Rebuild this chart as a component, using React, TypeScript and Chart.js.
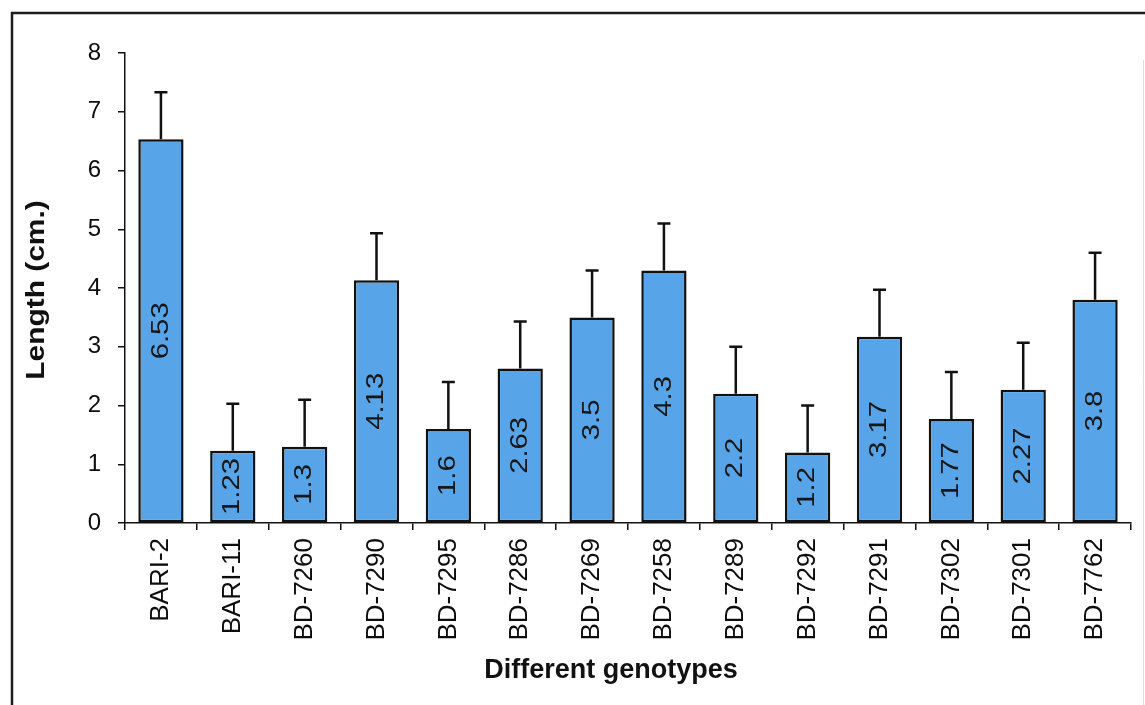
import React, { useEffect, useRef } from "react";
import { Chart, registerables } from "chart.js";

Chart.register(...registerables);

const categories = [
  "BARI-2", "BARI-11", "BD-7260", "BD-7290", "BD-7295", "BD-7286", "BD-7269",
  "BD-7258", "BD-7289", "BD-7292", "BD-7291", "BD-7302", "BD-7301", "BD-7762",
];
const values = [6.53, 1.23, 1.3, 4.13, 1.6, 2.63, 3.5, 4.3, 2.2, 1.2, 3.17, 1.77, 2.27, 3.8];
const errors = [0.8, 0.8, 0.8, 0.8, 0.8, 0.8, 0.8, 0.8, 0.8, 0.8, 0.8, 0.8, 0.8, 0.8];
const valueLabels = ["6.53", "1.23", "1.3", "4.13", "1.6", "2.63", "3.5", "4.3", "2.2", "1.2", "3.17", "1.77", "2.27", "3.8"];
const yMin = 0;
const yMax = 8;
const yStep = 1;
const yTitle = "Length (cm.)";
const xTitle = "Different genotypes";

const FONT = '"Liberation Sans", Arial, Helvetica, sans-serif';

const overlayPlugin = {
  id: "overlay",
  beforeDraw(chart: any) {
    const { ctx, width, height } = chart;
    ctx.save();
    ctx.fillStyle = "#ffffff";
    ctx.fillRect(0, 0, width, height);
    // frame
    ctx.strokeStyle = "#1e1e1e";
    ctx.lineWidth = 2.5;
    ctx.beginPath();
    ctx.moveTo(12, height);
    ctx.lineTo(12, 13);
    ctx.lineTo(width, 13);
    ctx.stroke();
    ctx.strokeStyle = "#dddddd";
    ctx.lineWidth = 1;
    ctx.beginPath();
    ctx.moveTo(width - 1.5, 60);
    ctx.lineTo(width - 1.5, height);
    ctx.stroke();
    ctx.restore();
  },
  afterDatasetsDraw(chart: any) {
    const { ctx } = chart;
    const yScale = chart.scales.y;
    const meta = chart.getDatasetMeta(0);
    ctx.save();
    meta.data.forEach((bar: any, i: number) => {
      const p = bar.getProps(["x", "y", "base"], true);
      const yErr = yScale.getPixelForValue(values[i] + errors[i]);
      ctx.strokeStyle = "#111111";
      ctx.lineWidth = 2.5;
      ctx.beginPath();
      ctx.moveTo(p.x, p.y);
      ctx.lineTo(p.x, yErr);
      ctx.moveTo(p.x - 6.5, yErr);
      ctx.lineTo(p.x + 6.5, yErr);
      ctx.stroke();

      ctx.save();
      ctx.translate(p.x, (p.y + p.base) / 2);
      ctx.rotate(-Math.PI / 2);
      ctx.scale(1.22, 1);
      ctx.font = `24px ${FONT}`;
      ctx.fillStyle = "#161616";
      ctx.textAlign = "center";
      ctx.textBaseline = "middle";
      ctx.fillText(valueLabels[i], 0, 0);
      ctx.restore();
    });

    // axis titles
    const area = chart.chartArea;
    ctx.fillStyle = "#111111";
    ctx.font = `bold 26px ${FONT}`;
    ctx.textAlign = "center";
    ctx.textBaseline = "alphabetic";
    ctx.save();
    ctx.translate(44, (area.top + area.bottom) / 2 + 2);
    ctx.rotate(-Math.PI / 2);
    ctx.scale(1.15, 1);
    ctx.fillText(yTitle, 0, 0);
    ctx.restore();

    ctx.font = `bold 27px ${FONT}`;
    ctx.fillText(xTitle, 611, 678);
    ctx.restore();
  },
};

export default function App() {
  const canvasRef = useRef<HTMLCanvasElement | null>(null);

  useEffect(() => {
    if (!canvasRef.current) return;
    const chart = new Chart(canvasRef.current, {
      type: "bar",
      data: {
        labels: categories,
        datasets: [
          {
            data: values,
            backgroundColor: "#58a4e8",
            borderColor: "#111111",
            borderWidth: 2.5,
            borderSkipped: false,
            categoryPercentage: 1,
            barPercentage: 0.63,
          },
        ],
      },
      options: {
        responsive: false,
        animation: false,
        devicePixelRatio: 1,
        layout: { padding: { top: 53, right: 14, bottom: 0, left: 0 } },
        plugins: {
          legend: { display: false },
          tooltip: { enabled: false },
          title: { display: false },
        },
        scales: {
          x: {
            type: "category",
            offset: true,
            afterFit: (s: any) => {
              s.height = 182;
            },
            grid: {
              display: true,
              offset: true,
              drawOnChartArea: false,
              drawTicks: true,
              tickLength: 7,
              color: "#111111",
              lineWidth: 1.5,
            },
            border: { display: true, color: "#111111", width: 1.5 },
            ticks: {
              autoSkip: false,
              minRotation: 90,
              maxRotation: 90,
              padding: 8,
              color: "#0d0d0d",
              font: { family: FONT, size: 26 },
            },
          },
          y: {
            min: yMin,
            max: yMax,
            afterFit: (s: any) => {
              s.width = 125;
            },
            grid: {
              display: true,
              drawOnChartArea: false,
              drawTicks: true,
              tickLength: 7,
              color: "#111111",
              lineWidth: 1.5,
            },
            border: { display: true, color: "#111111", width: 1.5 },
            ticks: {
              stepSize: yStep,
              padding: 17,
              color: "#0d0d0d",
              font: { family: FONT, size: 24 },
            },
          },
        },
      },
      plugins: [overlayPlugin],
    });
    return () => chart.destroy();
  }, []);

  return (
    <div style={{ position: "absolute", left: 0, top: 0, width: 1145, height: 705, background: "#fff" }}>
      <canvas ref={canvasRef} width={1145} height={705} style={{ display: "block", width: 1145, height: 705 }} />
    </div>
  );
}
